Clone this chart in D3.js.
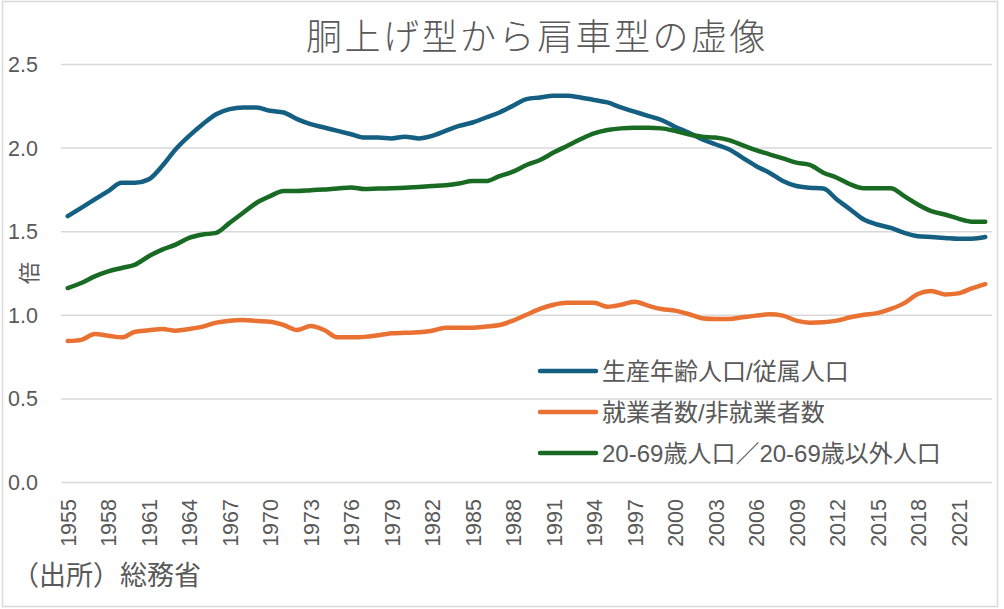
<!DOCTYPE html>
<html>
<head>
<meta charset="utf-8">
<script src="https://cdn.jsdelivr.net/npm/d3@7"></script>
<style>
  body { margin: 0; background: #fff; }
  svg text { font-family: "Liberation Sans", "Noto Sans CJK JP", sans-serif; fill: #595959; }
</style>
</head>
<body>
<div id="chart"></div>
<script>
"use strict";

// years on the category axis
const years = d3.range(1955, 2024);

// 生産年齢人口/従属人口
const workingAge = [
  1.59, 1.64, 1.69, 1.74, 1.79, 1.79, 1.81, 1.89, 1.99, 2.07,
  2.14, 2.20, 2.23, 2.24, 2.24, 2.22, 2.21, 2.17, 2.14, 2.12,
  2.10, 2.08, 2.06, 2.06, 2.055, 2.065, 2.055, 2.07, 2.10, 2.13,
  2.15, 2.18, 2.21, 2.25, 2.29, 2.30, 2.31, 2.31, 2.30, 2.285,
  2.27, 2.24, 2.215, 2.19, 2.165, 2.125, 2.09, 2.05, 2.02, 1.99,
  1.94, 1.89, 1.85, 1.80, 1.77, 1.76, 1.755, 1.69, 1.63, 1.57,
  1.54, 1.52, 1.49, 1.47, 1.465, 1.46, 1.455, 1.455, 1.465
];

// 就業者数/非就業者数
const employed = [
  0.843, 0.85, 0.885, 0.875, 0.865, 0.899, 0.907, 0.915, 0.905, 0.915,
  0.929, 0.953, 0.965, 0.969, 0.963, 0.959, 0.939, 0.909, 0.933, 0.909,
  0.865, 0.865, 0.868, 0.878, 0.889, 0.892, 0.895, 0.905, 0.923, 0.923,
  0.923, 0.93, 0.939, 0.965, 1.00, 1.035, 1.06, 1.072, 1.072, 1.072,
  1.048, 1.06, 1.078, 1.055, 1.035, 1.025, 1.005, 0.98, 0.975, 0.975,
  0.985, 0.995, 1.003, 0.995, 0.965, 0.953, 0.955, 0.965, 0.985, 1.00,
  1.01, 1.035, 1.07, 1.124, 1.142, 1.122, 1.128, 1.158, 1.184
];

// 20-69歳人口／20-69歳以外人口
const age2069 = [
  1.16, 1.19, 1.23, 1.26, 1.28, 1.30, 1.35, 1.39, 1.42, 1.46,
  1.48, 1.49, 1.55, 1.61, 1.67, 1.71, 1.74, 1.74, 1.745, 1.75,
  1.755, 1.762, 1.752, 1.755, 1.757, 1.76, 1.765, 1.77, 1.775, 1.785,
  1.80, 1.80, 1.83, 1.856, 1.896, 1.926, 1.97, 2.01, 2.05, 2.085,
  2.105, 2.115, 2.118, 2.118, 2.115, 2.10, 2.08, 2.065, 2.06, 2.045,
  2.015, 1.985, 1.96, 1.935, 1.91, 1.896, 1.85, 1.82, 1.78, 1.757,
  1.757, 1.757, 1.71, 1.66, 1.62, 1.60, 1.575, 1.557, 1.557
];

const seriesNames = ["生産年齢人口/従属人口", "就業者数/非就業者数", "20-69歳人口／20-69歳以外人口"];
const seriesColors = ["#156082", "#E97132", "#196B24"];
const yTicks = [0, 0.5, 1.0, 1.5, 2.0, 2.5];
const xTickYears = years.filter(y => (y - 1955) % 3 === 0);

const width = 1004, height = 609;
const plotLeft = 61, plotRight = 992, plotTop = 64, plotBottom = 482;

const svg = d3.select("#chart").append("svg")
  .attr("width", width)
  .attr("height", height);

// chart border
svg.append("rect")
  .attr("x", 2.5).attr("y", 1.5)
  .attr("width", 995).attr("height", 605)
  .attr("fill", "#fff")
  .attr("stroke", "#d9d9d9")
  .attr("stroke-width", 1.5);

const x = d3.scalePoint(years, [plotLeft, plotRight]).padding(0.5);
const y = d3.scaleLinear([0, 2.5], [plotBottom, plotTop]);

// y axis with gridlines
svg.append("g")
  .attr("transform", `translate(${plotLeft},0)`)
  .call(d3.axisLeft(y).tickValues(yTicks).tickFormat(d3.format(".1f")).tickSize(0).tickPadding(23))
  .call(g => g.select(".domain").remove())
  .call(g => g.selectAll(".tick text").attr("font-size", 21.5).attr("dy", "0.35em"))
  .call(g => g.selectAll(".tick line").clone()
    .attr("x2", plotRight - plotLeft)
    .attr("stroke", "#d9d9d9")
    .attr("stroke-width", 1.5));

// x axis, rotated year labels
svg.append("g")
  .attr("transform", `translate(0,${plotBottom})`)
  .call(d3.axisBottom(x).tickValues(xTickYears).tickSize(0))
  .call(g => g.select(".domain").remove())
  .call(g => g.selectAll(".tick text")
    .attr("font-size", 21.5)
    .attr("text-anchor", "end")
    .attr("transform", "rotate(-90)")
    .attr("x", -17)
    .attr("y", 0)
    .attr("dy", "0.36em"));

// y axis title
svg.append("text")
  .attr("transform", "translate(29,273) rotate(-90)")
  .attr("text-anchor", "middle")
  .attr("dy", "0.36em")
  .attr("font-size", 22)
  .text("倍");

const line = d3.line()
  .x((d, i) => x(years[i]))
  .y(d => y(d))
  .curve(d3.curveMonotoneX);

const allSeries = [workingAge, employed, age2069];
allSeries.forEach((s, i) => {
  svg.append("path")
    .attr("fill", "none")
    .attr("stroke", seriesColors[i])
    .attr("stroke-width", 4.5)
    .attr("stroke-linejoin", "round")
    .attr("stroke-linecap", "round")
    .attr("d", line(s));
});

// legend
const legendY = [371, 412, 453];
seriesNames.forEach((name, i) => {
  svg.append("line")
    .attr("x1", 540).attr("x2", 596)
    .attr("y1", legendY[i]).attr("y2", legendY[i])
    .attr("stroke", seriesColors[i])
    .attr("stroke-width", 4.5)
    .attr("stroke-linecap", "round");
  svg.append("text")
    .attr("x", 602)
    .attr("y", legendY[i])
    .attr("dy", "0.36em")
    .attr("font-size", 24)
    .text(name);
});

// title
svg.append("text")
  .attr("x", 537)
  .attr("y", 37)
  .attr("dy", "0.36em")
  .attr("text-anchor", "middle")
  .attr("font-size", 36)
  .attr("font-weight", 300)
  .attr("letter-spacing", 2.5)
  .text("胴上げ型から肩車型の虚像");

// source
svg.append("text")
  .attr("x", 12)
  .attr("y", 575)
  .attr("dy", "0.36em")
  .attr("font-size", 27)
  .text("（出所）総務省");
</script>
</body>
</html>
